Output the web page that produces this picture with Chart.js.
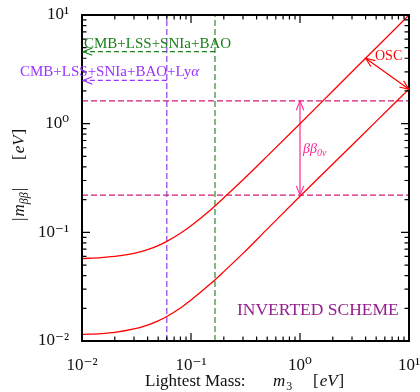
<!DOCTYPE html>
<html lang="en">
<head>
<meta charset="UTF-8">
<title>Inverted scheme</title>
<script src="https://cdn.jsdelivr.net/npm/chart.js@4/dist/chart.umd.min.js"></script>
<style>
  body { margin: 0; background: #fff; }
  #wrap { width: 420px; height: 392px; position: relative; }
</style>
</head>
<body>
<div id="wrap"><canvas id="chart"></canvas></div>
<script>
// lightest mass m3 [eV] and the two edges of the |m_bb| band
var masses   = [0.01, 0.015, 0.02, 0.03, 0.04, 0.05, 0.06, 0.08, 0.1, 0.15, 0.2, 0.3, 0.5, 1, 2, 5, 10]
var upperMbb = [0.0574, 0.0585, 0.0600, 0.0640, 0.0693, 0.0755, 0.0825, 0.098, 0.115, 0.160, 0.208, 0.305, 0.503, 1.0, 2.0, 5.0, 10]
var lowerMbb = [0.0115, 0.0117, 0.0120, 0.0129, 0.0140, 0.0153, 0.0168, 0.0201, 0.0238, 0.0334, 0.0435, 0.0640, 0.107, 0.215, 0.425, 1.05, 2.08]

// cosmological bounds on m3
var lyaBound = 0.06      // CMB+LSS+SNIa+BAO+Lya
var baoBound = 0.166     // CMB+LSS+SNIa+BAO
var lyaArrowY = 2.5
var baoArrowY = 4.6

// 0vbb sensitivity band
var bbLevels = [0.22, 1.62]
var bbArrowX = 1

// OSC arrow ends
var oscFrom = {x: 4, y: 4}
var oscTo = {x: 10, y: 2.07}

var tickValues = [0.01, 0.1, 1, 10]
var tickLabels = ['10⁻²', '10⁻¹', '10⁰', '10¹']

var serif = "'Liberation Serif', 'DejaVu Serif', serif"

function pts(xs, ys) {
    return xs.map(function (x, i) { return {x: x, y: ys[i]} })
}

var datasets = [
    {data: pts(masses, upperMbb), borderColor: '#ff0000', borderWidth: 1.3, cubicInterpolationMode: 'monotone'},
    {data: pts(masses, lowerMbb), borderColor: '#ff0000', borderWidth: 1.3, cubicInterpolationMode: 'monotone'},
    {data: [{x: 0.01, y: bbLevels[0]}, {x: 10, y: bbLevels[0]}], borderColor: '#d31b74', borderWidth: 1.1, borderDash: [6, 3]},
    {data: [{x: 0.01, y: bbLevels[1]}, {x: 10, y: bbLevels[1]}], borderColor: '#d31b74', borderWidth: 1.1, borderDash: [6, 3]},
    {data: [{x: lyaBound, y: 0.01}, {x: lyaBound, y: 10}], borderColor: '#8a2be2', borderWidth: 1.1, borderDash: [6, 3]},
    {data: [{x: baoBound, y: 0.01}, {x: baoBound, y: 10}], borderColor: '#1a7f1a', borderWidth: 1.1, borderDash: [6, 3]},
    {data: [{x: lyaBound, y: lyaArrowY}, {x: 0.01, y: lyaArrowY}], borderColor: '#9933ff', borderWidth: 1.1, borderDash: [5, 3]},
    {data: [{x: baoBound, y: baoArrowY}, {x: 0.01, y: baoArrowY}], borderColor: '#1a7f1a', borderWidth: 1.1, borderDash: [5, 3]},
    {data: [{x: bbArrowX, y: bbLevels[0]}, {x: bbArrowX, y: bbLevels[1]}], borderColor: '#ff2a93', borderWidth: 1.2},
    {data: [oscFrom, oscTo], borderColor: '#ff0000', borderWidth: 1.3}
]

function head(ctx, x0, y0, x1, y1, color) {
    var ang = Math.atan2(y1 - y0, x1 - x0)
    ctx.save()
    ctx.strokeStyle = color
    ctx.lineWidth = 1.1
    ctx.beginPath()
    ctx.moveTo(x1 - 10 * Math.cos(ang - 0.38), y1 - 10 * Math.sin(ang - 0.38))
    ctx.lineTo(x1, y1)
    ctx.lineTo(x1 - 10 * Math.cos(ang + 0.38), y1 - 10 * Math.sin(ang + 0.38))
    ctx.stroke()
    ctx.restore()
}

// draws frame, inward ticks, arrow heads and the labels
var decor = {
    id: 'decor',
    afterDatasetsDraw: function (chart) {
        var ctx = chart.ctx, a = chart.chartArea
        var xs = chart.scales.x, ys = chart.scales.y
        var X = function (v) { return xs.getPixelForValue(v) }
        var Y = function (v) { return ys.getPixelForValue(v) }

        ctx.save()
        ctx.strokeStyle = '#000'
        ctx.lineWidth = 2
        ctx.strokeRect(a.left, a.top, a.right - a.left, a.bottom - a.top)
        ctx.lineWidth = 1.2
        ctx.beginPath()
        for (var d = 0.01; d < 5; d *= 10) {
            for (var k = 1; k <= 9; k++) {
                var v = k * d
                var len = k == 1 ? 8 : 4.5
                var px = X(v), py = Y(v)
                ctx.moveTo(px, a.bottom); ctx.lineTo(px, a.bottom - len)
                ctx.moveTo(px, a.top); ctx.lineTo(px, a.top + len)
                ctx.moveTo(a.left, py); ctx.lineTo(a.left + len, py)
                ctx.moveTo(a.right, py); ctx.lineTo(a.right - len, py)
            }
        }
        ctx.stroke()

        // arrow heads
        head(ctx, X(lyaBound), Y(lyaArrowY), X(0.01) + 1, Y(lyaArrowY), '#9933ff')
        head(ctx, X(baoBound), Y(baoArrowY), X(0.01) + 1, Y(baoArrowY), '#1a7f1a')
        head(ctx, X(bbArrowX), Y(bbLevels[0]), X(bbArrowX), Y(bbLevels[1]), '#ff2a93')
        head(ctx, X(bbArrowX), Y(bbLevels[1]), X(bbArrowX), Y(bbLevels[0]), '#ff2a93')
        head(ctx, X(oscTo.x), Y(oscTo.y), X(oscFrom.x), Y(oscFrom.y), '#ff0000')
        head(ctx, X(oscFrom.x), Y(oscFrom.y), X(oscTo.x), Y(oscTo.y), '#ff0000')

        // labels
        ctx.textBaseline = 'alphabetic'
        ctx.textAlign = 'left'
        ctx.font = '15px ' + serif
        ctx.fillStyle = '#1a7f1a'
        ctx.fillText('CMB+LSS+SNIa+BAO', 84, 48)
        ctx.fillStyle = '#9933ff'
        ctx.fillText('CMB+LSS+SNIa+BAO+Ly', 20, 76)
        var w = ctx.measureText('CMB+LSS+SNIa+BAO+Ly').width
        ctx.font = 'italic 15px ' + serif
        ctx.fillText('α', 20 + w, 76)

        ctx.fillStyle = '#ff0000'
        ctx.font = '14px ' + serif
        ctx.fillText('OSC', 375, 60)

        ctx.fillStyle = '#ff2a93'
        ctx.font = 'italic 14px ' + serif
        ctx.fillText('ββ', 303, 153)
        var bw = ctx.measureText('ββ').width
        ctx.font = 'italic 10px ' + serif
        ctx.fillText('0ν', 303 + bw, 156)

        ctx.fillStyle = '#951e8e'
        ctx.font = '17.5px ' + serif
        ctx.fillText('INVERTED SCHEME', 237, 315)

        // x axis title
        ctx.fillStyle = '#111'
        ctx.font = '17px ' + serif
        ctx.fillText('Lightest Mass:', 145, 386)
        ctx.font = 'italic 17px ' + serif
        ctx.fillText('m', 273, 386)
        var mw = ctx.measureText('m').width
        ctx.font = '12px ' + serif
        ctx.fillText('3', 273 + mw + 1, 390)
        ctx.font = '17px ' + serif
        ctx.fillText('[', 313, 386)
        var lb = ctx.measureText('[').width
        ctx.font = 'italic 17px ' + serif
        ctx.fillText('eV', 313 + lb + 1, 386)
        var ev = ctx.measureText('eV').width
        ctx.font = '17px ' + serif
        ctx.fillText(']', 313 + lb + ev + 2, 386)

        // y axis title, rotated
        ctx.translate(24, 221)
        ctx.rotate(-Math.PI / 2)
        ctx.font = '17px ' + serif
        ctx.fillText('|', 0, 0)
        var cx = ctx.measureText('|').width + 1
        ctx.font = 'italic 17px ' + serif
        ctx.fillText('m', cx, 0)
        cx += ctx.measureText('m').width
        ctx.font = 'italic 12px ' + serif
        ctx.fillText('ββ', cx, 4)
        cx += ctx.measureText('ββ').width + 1
        ctx.font = '17px ' + serif
        ctx.fillText('|', cx, 0)
        ctx.fillText('[', 61, 0)
        var lb2 = ctx.measureText('[').width
        ctx.font = 'italic 17px ' + serif
        ctx.fillText('eV', 61 + lb2 + 1, 0)
        var ev2 = ctx.measureText('eV').width
        ctx.font = '17px ' + serif
        ctx.fillText(']', 61 + lb2 + ev2 + 2, 0)
        ctx.restore()
    }
}

function fixTicks(scale) {
    scale.ticks = tickValues.map(function (v) { return {value: v} })
}

var config = {
    type: 'line',
    data: {datasets: datasets},
    options: {
        responsive: true,
        maintainAspectRatio: false,
        animation: false,
        layout: {padding: {top: 15, right: 11, left: 0, bottom: 0}},
        elements: {point: {radius: 0}, line: {fill: false}},
        plugins: {legend: {display: false}, tooltip: {enabled: false}},
        scales: {
            x: {
                type: 'logarithmic', min: 0.01, max: 10,
                grid: {display: false},
                border: {display: false},
                afterBuildTicks: fixTicks,
                afterFit: function (s) { s.height = 51; s.paddingLeft = 0; s.paddingRight = 0 },
                ticks: {
                    autoSkip: false, maxRotation: 0, padding: 6,
                    color: '#111', font: {family: serif, size: 17},
                    callback: function (v) { return tickLabels[tickValues.indexOf(v)] }
                }
            },
            y: {
                type: 'logarithmic', min: 0.01, max: 10,
                grid: {display: false},
                border: {display: false},
                afterBuildTicks: fixTicks,
                afterFit: function (s) { s.width = 82; s.paddingTop = 0; s.paddingBottom = 0 },
                ticks: {
                    autoSkip: false, padding: 5,
                    color: '#111', font: {family: serif, size: 17},
                    callback: function (v) { return tickLabels[tickValues.indexOf(v)] }
                }
            }
        }
    },
    plugins: [decor]
}

window.addEventListener('load', function () {
    new Chart(document.getElementById('chart'), config)
})
</script>
</body>
</html>
